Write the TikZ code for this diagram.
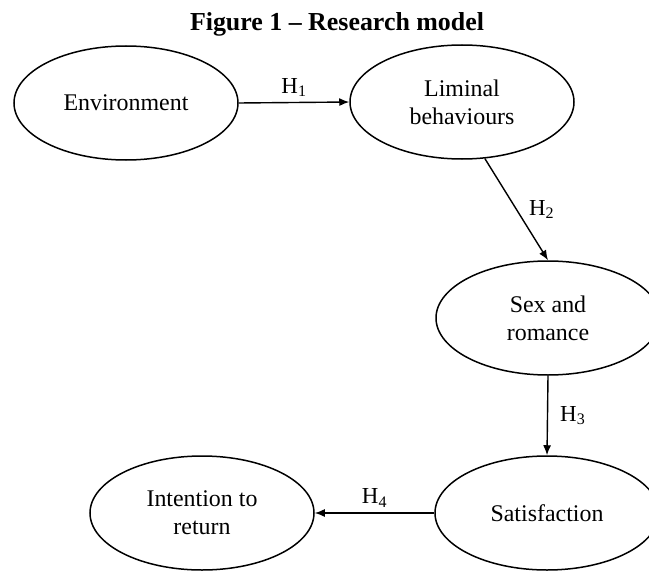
\documentclass[tikz,border=0pt]{standalone}
\usepackage{fontspec}
\setmainfont{Liberation Serif}
\usepackage{tikz}
\usetikzlibrary{arrows.meta,shapes.geometric}

\begin{document}
\begin{tikzpicture}[x=1bp,y=-1bp,
  construct/.style={ellipse,draw=black,line width=1.5bp,inner sep=0pt,minimum width=224bp,minimum height=114bp,align=center,font=\fontsize{24}{28}\selectfont},
  hyp/.style={line width=1.4bp,-{Latex[length=10bp,width=8bp]}},
  hyplabel/.style={font=\fontsize{23}{26}\selectfont,inner sep=2bp}]
\useasboundingbox (0,0) rectangle (649,572);
\clip (0,0) rectangle (649,572);
\node[font=\fontsize{26}{30}\selectfont\bfseries] (title) at (337,24) {Figure 1 -- Research model};
\node[construct] (env) at (126,103) {Environment};
\node[construct] (lim) at (462,102) {Liminal\\behaviours};
\node[construct] (sex) at (548,318) {Sex and\\romance};
\node[construct] (sat) at (547,513) {Satisfaction};
\node[construct] (ret) at (202,513) {Intention to\\return};
\draw[hyp] (env.east) -- node[hyplabel,above=3bp] (h1) {H\textsubscript{1}} (lim.west);
\draw[hyp] (lim.-68) -- node[hyplabel,right=10bp] (h2) {H\textsubscript{2}} (sex.north);
\draw[hyp] (sex.south) -- node[hyplabel,right=10bp] (h3) {H\textsubscript{3}} (sat.north);
\draw[hyp] (sat.west) -- node[hyplabel,above=3bp] (h4) {H\textsubscript{4}} (ret.east);
\end{tikzpicture}
\end{document}
